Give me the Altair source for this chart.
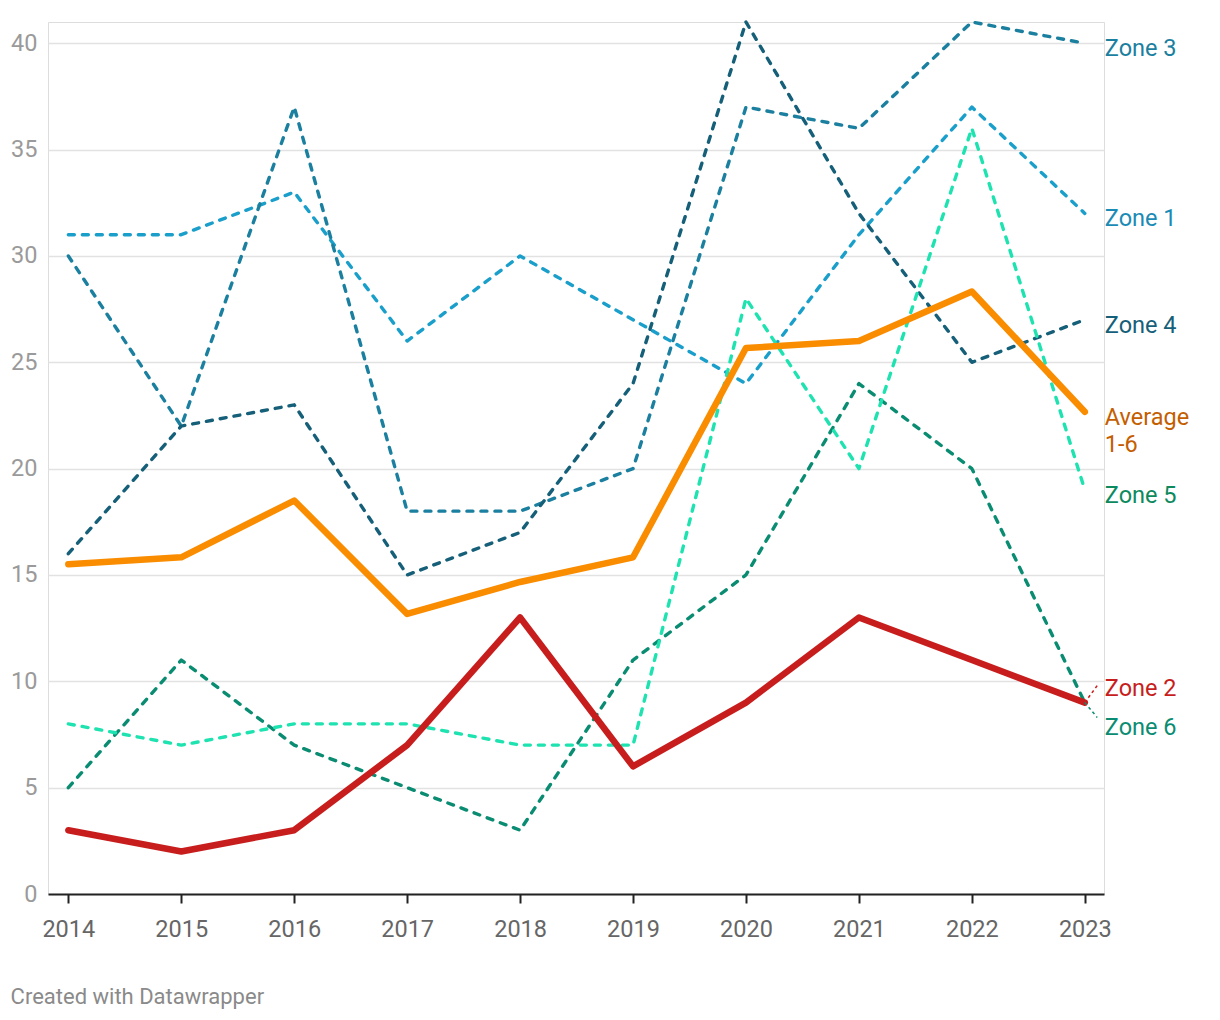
import altair as alt
import pandas as pd

years = [2014, 2015, 2016, 2017, 2018, 2019, 2020, 2021, 2022, 2023]
zone1 = [31, 31, 33, 26, 30, 27, 24, 31, 37, 32]
zone2 = [3, 2, 3, 7, 13, 6, 9, 13, 11, 9]
zone3 = [30, 22, 37, 18, 18, 20, 37, 36, 41, 40]
zone4 = [16, 22, 23, 15, 17, 24, 41, 32, 25, 27]
zone5 = [8, 7, 8, 8, 7, 7, 28, 20, 36, 19]
zone6 = [5, 11, 7, 5, 3, 11, 15, 24, 20, 9]
average = [15.5, 15.83, 18.5, 13.17, 14.67, 15.83, 25.67, 26.0, 28.33, 22.67]

series_names = ["Zone 1", "Zone 3", "Zone 4", "Zone 6", "Zone 5", "Average 1-6", "Zone 2"]
series_values = [zone1, zone3, zone4, zone6, zone5, average, zone2]
line_colors = ["#1a9fcb", "#1b7f9f", "#155f79", "#0a8c72", "#1ee3b0", "#fa8c00", "#c71e1d"]
dashed = [True, True, True, True, True, False, False]

label_texts = [["Zone 3"], ["Zone 1"], ["Zone 4"], ["Average", "1-6"], ["Zone 5"], ["Zone 2"], ["Zone 6"]]
label_y = [40, 32, 27, 22.67, 19, 9.9, 8.1]
label_colors = ["#1b7f9f", "#1a8bb5", "#155f79", "#c45e00", "#0c8a5e", "#c71e1d", "#0a8c72"]

x_dom = [2013.82, 2023.17]
y_dom = [0, 41]

xs = alt.Scale(domain=x_dom, nice=False, zero=False)
ys = alt.Scale(domain=y_dom, nice=False)

layers = []
axis_df = pd.DataFrame({"year": years, "v": zone1})
base = alt.Chart(axis_df).mark_line(opacity=0).encode(
    x=alt.X("year:Q", scale=xs, title=None,
            axis=alt.Axis(values=years, format="d", grid=False, domainColor="#222",
                          domainWidth=2, tickColor="#222", tickWidth=2, tickSize=9,
                          labelFontSize=23.5, labelColor="#666", labelPadding=14,
                          labelFont="Roboto")),
    y=alt.Y("v:Q", scale=ys, title=None,
            axis=alt.Axis(values=list(range(0, 41, 5)), domain=False, ticks=False,
                          gridColor="#e2e2e2", gridWidth=1.5, labelFontSize=23.5,
                          labelColor="#9a9a9a", labelPadding=11, labelFont="Roboto")),
)
layers.append(base)

for name, vals, col, d in zip(series_names, series_values, line_colors, dashed):
    df = pd.DataFrame({"year": years, "v": vals})
    if d:
        m = alt.Chart(df).mark_line(color=col, strokeWidth=3.4, strokeDash=[6, 8],
                                    strokeCap="round", strokeJoin="round")
    else:
        m = alt.Chart(df).mark_line(color=col, strokeWidth=6.5, strokeCap="round",
                                    strokeJoin="round")
    layers.append(m.encode(x=alt.X("year:Q", scale=xs), y=alt.Y("v:Q", scale=ys)))

conn_df = pd.DataFrame({"x": [2023, 2023], "x2": [2023.11, 2023.11],
                        "y": [9, 9], "y2": [9.8, 8.3],
                        "c": ["#c71e1d", "#0a8c72"]})
conn = alt.Chart(conn_df).mark_rule(strokeWidth=1.5, strokeDash=[3, 3]).encode(
    x=alt.X("x:Q", scale=xs), x2="x2:Q", y=alt.Y("y:Q", scale=ys), y2="y2:Q",
    color=alt.Color("c:N", scale=None))
layers.append(conn)

lab_df = pd.DataFrame({"year": [2023] * len(label_y), "y": label_y,
                       "t": label_texts, "c": label_colors})
labels = alt.Chart(lab_df).mark_text(align="left", baseline="middle", dx=20, dy=6,
                                     fontSize=23.5, font="Roboto", lineHeight=27).encode(
    x=alt.X("year:Q", scale=xs), y=alt.Y("y:Q", scale=ys), text="t",
    color=alt.Color("c:N", scale=None))
layers.append(labels)

chart = alt.layer(*layers).properties(
    width=1056, height=872,
    autosize=alt.AutoSizeParams(type="none"),
    padding={"left": 40, "top": 14, "right": 100, "bottom": 125},
    title=alt.TitleParams(text="Created with Datawrapper", orient="bottom", anchor="start",
                          fontSize=22, color="#8a8a8a", fontWeight="normal", font="Roboto",
                          offset=46, frame="bounds"),
).configure_view(strokeWidth=0).configure(background="white")

chart.save("out.html", embed_options={"renderer": "svg", "actions": False})
